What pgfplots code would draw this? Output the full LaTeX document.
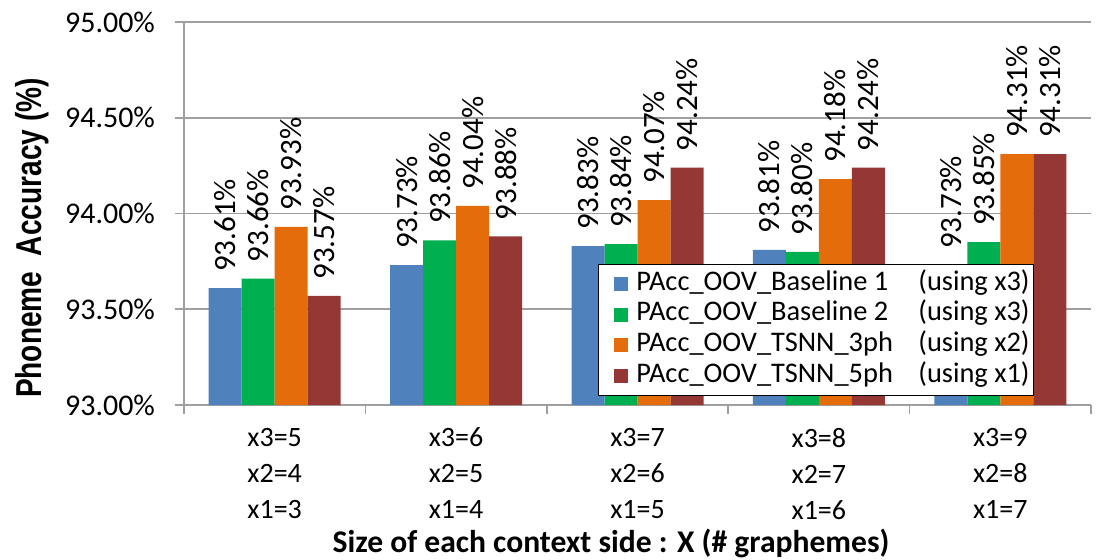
\documentclass[border=0pt]{standalone}
\usepackage{pgfplots}
\pgfplotsset{compat=1.18}
\usepackage{fontspec}
\setmainfont{Carlito}
\newfontfamily\ylfont[FakeStretch=0.78]{Liberation Sans Bold}
\definecolor{cB}{RGB}{79,129,189}
\definecolor{cG}{RGB}{0,176,80}
\definecolor{cO}{RGB}{228,108,10}
\definecolor{cR}{RGB}{149,55,53}
\newcommand{\lbl}[2]{\makebox[141pt][l]{#1}#2}
\begin{document}
\begin{tikzpicture}
\useasboundingbox (-92pt,-77pt) rectangle (457pt,202.5pt);
\begin{axis}[
  scale only axis, width=453.5pt, height=191.5pt,
  /pgf/number format/assume math mode=true,
  ybar=0pt, bar width=16.5pt,
  xmin=-0.5, xmax=4.5, ymin=93, ymax=95,
  axis x line*=bottom, axis y line*=left,
  axis line style={-, draw=gray!75, line width=0.8pt},
  tick align=outside,
  ytick={93,93.5,94,94.5,95},
  yticklabel={\pgfmathprintnumber[fixed,fixed zerofill,precision=2]{\tick}\%},
  yticklabel style={font=\fontsize{15}{17}\selectfont, xshift=-6.5pt},
  ymajorgrids, major grid style={gray!75, line width=0.8pt},
  major tick length=4.5pt, minor tick length=4.5pt,
  tick style={gray!75, line width=0.8pt},
  xtick={0,1,2,3,4},
  major x tick style={draw=none},
  minor xtick={-0.5,0.5,1.5,2.5,3.5,4.5},
  xticklabels={{x3=5\\x2=4\\x1=3},{x3=6\\x2=5\\x1=4},{x3=7\\x2=6\\x1=5},{x3=8\\x2=7\\x1=6},{x3=9\\x2=8\\x1=7}},
  xticklabel style={align=center, font=\fontsize{14}{18}\selectfont, anchor=north, yshift=-3.5pt},
  xlabel={\textbf{Size of each context side : X (\# graphemes)}},
  xlabel style={font=\fontsize{15.8}{18}\selectfont, at={(axis description cs:0.4708,-0.385)}, anchor=base},
  ylabel={\ylfont Phoneme\ \ Accuracy (\%)},
  ylabel style={font=\fontsize{18}{20}\selectfont, at={(axis description cs:-0.1566,0.436)}, anchor=base},
  nodes near coords={\pgfmathprintnumber[fixed,fixed zerofill,precision=2]{\pgfplotspointmeta}\%},
  nodes near coords style={rotate=90, anchor=west, font=\fontsize{15.5}{17}\selectfont, inner xsep=8pt, inner ysep=1pt, black},
  legend image code/.code={\path (-7pt,0pt) (10pt,0pt); \fill[#1] (0pt,-3.5pt) rectangle (7pt,3.5pt);},
  legend style={at={(axis description cs:0.4565,0.0235)}, anchor=south west, draw=black, fill=white,
    inner xsep=1pt, inner ysep=2pt,
    font=\fontsize{14.2}{16}\selectfont, cells={anchor=west},
    nodes={inner sep=1pt, text height=9.8pt, text depth=3.6pt}},
]
\addplot[fill=cB, draw=none] coordinates {(0,93.61) (1,93.73) (2,93.83) (3,93.81) (4,93.73)};
\addplot[fill=cG, draw=none] coordinates {(0,93.66) (1,93.86) (2,93.84) (3,93.80) (4,93.85)};
\addplot[fill=cO, draw=none] coordinates {(0,93.93) (1,94.04) (2,94.07) (3,94.18) (4,94.31)};
\addplot[fill=cR, draw=none] coordinates {(0,93.57) (1,93.88) (2,94.24) (3,94.24) (4,94.31)};
\legend{\lbl{PAcc\_OOV\_Baseline 1}{(using x3)},\lbl{PAcc\_OOV\_Baseline 2}{(using x3)},\lbl{PAcc\_OOV\_TSNN\_3ph}{(using x2)},\lbl{PAcc\_OOV\_TSNN\_5ph}{(using x1)}}
\end{axis}
\end{tikzpicture}
\end{document}
